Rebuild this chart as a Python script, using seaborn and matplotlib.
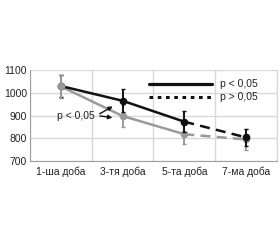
import matplotlib
matplotlib.use("Agg")
import matplotlib.pyplot as plt
import seaborn as sns
import pandas as pd
import numpy as np

categories = ["1-ша доба", "3-тя доба", "5-та доба", "7-ма доба"]
black_vals = [1030, 965, 873, 804]
black_err = [50, 50, 47, 37]
gray_vals = [1028, 898, 818, 795]
gray_err = [52, 47, 45, 45]
legend_labels = ["p < 0,05", "p > 0,05"]
annot_text = "p < 0,05"
yticks = [700, 800, 900, 1000, 1100]

sns.set_style("white")
plt.rcParams['font.family'] = ['Liberation Sans', 'DejaVu Sans']

fig = plt.figure(figsize=(2.8, 2.4), dpi=100)
ax = fig.add_axes([0.107, 0.329, 0.882, 0.379])

x = np.arange(len(categories))
BLACK = "#111111"
GRAY = "#9a9a9a"

df = pd.DataFrame({"x": x, "black": black_vals, "gray": gray_vals})
solid = df.iloc[:3]
dashed = df.iloc[2:]

for col, c in [("gray", GRAY), ("black", BLACK)]:
    sns.lineplot(data=solid, x="x", y=col, ax=ax, color=c, lw=1.8, zorder=3)
    sns.lineplot(data=dashed, x="x", y=col, ax=ax, color=c, lw=1.8,
                 linestyle=(0, (4, 2.5)), zorder=3)

ax.errorbar(x, gray_vals, yerr=gray_err, fmt="o", color=GRAY, ms=4.5,
            capsize=1.5, elinewidth=1.4, zorder=4)
ax.errorbar(x, black_vals, yerr=black_err, fmt="o", color=BLACK, ms=4.5,
            capsize=1.5, elinewidth=1.4, zorder=5)
ax.errorbar(x[:1], gray_vals[:1], yerr=gray_err[:1], fmt="o", color=GRAY, ms=4.5,
            capsize=1.5, elinewidth=1.4, zorder=6)

ax.set_xlim(-0.5, 3.5)
ax.set_ylim(700, 1100)
ax.set_yticks(yticks)
ax.set_xticks(np.arange(-0.5, 4.0, 1.0))
ax.set_xticklabels([])
ax.set_xticks(x, minor=True)
ax.set_xticklabels(categories, minor=True)
ax.tick_params(axis="x", which="major", length=5, color="#c8c8c8", width=1)
ax.tick_params(axis="x", which="minor", length=0, labelsize=7.5, pad=4, colors="#222222")
ax.tick_params(axis="y", length=0, labelsize=7.5, pad=2, colors="#222222")
ax.grid(True, axis="both", which="major", color="#d8d8d8", lw=1)
ax.set_xlabel("")
ax.set_ylabel("")
ax.spines["top"].set_visible(False)
ax.spines["right"].set_visible(True)
ax.spines["right"].set_color("#d8d8d8")
ax.spines["left"].set_color("#a0a0a0")
ax.spines["bottom"].set_color("#a0a0a0")

# legend (drawn as lines in axes)
ax.plot([1.43, 2.45], [1040, 1040], color=BLACK, lw=2.3, zorder=6)
ax.plot([1.43, 2.45], [983, 983], color=BLACK, lw=2.2, linestyle=(0, (1.2, 1.5)), zorder=6)
ax.text(2.57, 1040, legend_labels[0], fontsize=7.5, va="center", color="#222222")
ax.text(2.57, 983, legend_labels[1], fontsize=7.5, va="center", color="#222222")

# annotation
ax.text(-0.06, 898, annot_text, fontsize=7.5, va="center", color="#222222")
ax.annotate("", xy=(0.88, 946), xytext=(0.59, 902),
            arrowprops=dict(arrowstyle="-|>", color=BLACK, lw=1, mutation_scale=6))
ax.annotate("", xy=(0.88, 889), xytext=(0.59, 900),
            arrowprops=dict(arrowstyle="-|>", color=BLACK, lw=1, mutation_scale=6))

fig.savefig("out.png", dpi=100)
